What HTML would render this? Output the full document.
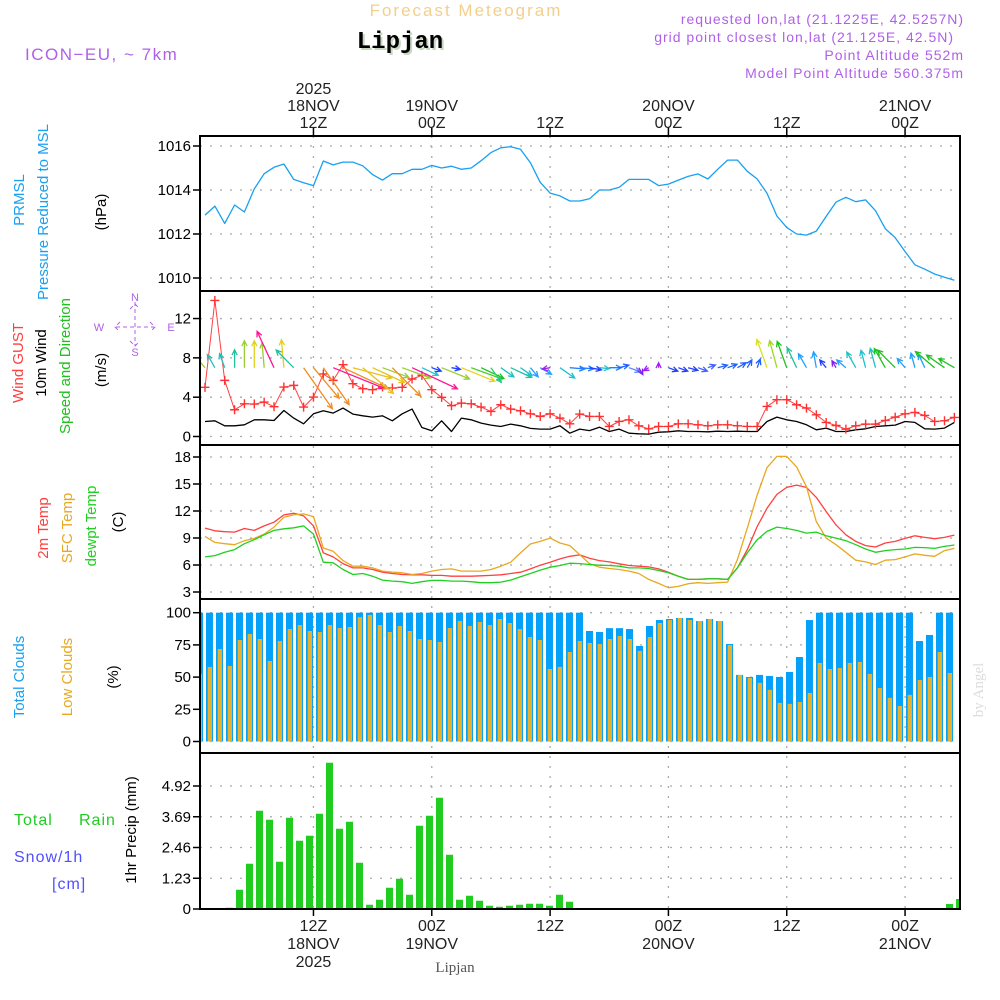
<!DOCTYPE html>
<html><head><meta charset="utf-8"><title>Forecast Meteogram - Lipjan</title>
<style>
html,body{margin:0;padding:0;background:#fff;}
svg{display:block;}
text{font-family:"Liberation Sans",sans-serif;}
</style></head>
<body>
<svg id="chart" xmlns="http://www.w3.org/2000/svg" width="1000" height="1000" viewBox="0 0 1000 1000">
<rect x="0" y="0" width="1000" height="1000" fill="#fff"/>
<text x="466" y="16" text-anchor="middle" font-size="17" fill="#f3cf8c" letter-spacing="2">Forecast Meteogram</text>
<text x="402" y="50" text-anchor="middle" font-size="24" font-weight="bold" fill="#c8d8c0" style="font-family:'Liberation Mono','Liberation Serif',serif">Lipjan</text>
<text x="400" y="48" text-anchor="middle" font-size="24" font-weight="bold" fill="#000" style="font-family:'Liberation Mono','Liberation Serif',serif">Lipjan</text>
<text x="25" y="60" font-size="17" fill="#b060e8" letter-spacing="1.5">ICON−EU, ~ 7km</text>
<g font-size="14" fill="#b060e8" text-anchor="end" letter-spacing="1">
<text x="964" y="24">requested lon,lat (21.1225E, 42.5257N)</text>
<text x="954" y="42">grid point closest lon,lat (21.125E, 42.5N)</text>
<text x="964" y="60">Point Altitude 552m</text>
<text x="964" y="78">Model Point Altitude 560.375m</text>
</g>
<g id="labels" font-size="15"></g>
<g id="grid"></g>
<g id="marks"></g>
<g id="frames"></g>
<text x="983" y="690" transform="rotate(-90 983 690)" text-anchor="middle" font-size="15" fill="#dcdcdc" style="font-family:'Liberation Serif',serif">by Angel</text>
<text x="455" y="972" text-anchor="middle" font-size="15" fill="#555" style="font-family:'Liberation Serif',serif">Lipjan</text>
</svg>
<script>
const pressure=[1012.86,1013.27,1012.48,1013.32,1013.0,1014.05,1014.74,1015.03,1015.18,1014.48,1014.33,1014.2,1015.32,1015.14,1015.27,1015.27,1015.1,1014.7,1014.45,1014.74,1014.74,1014.94,1014.94,1015.12,1015.0,1015.08,1014.94,1015.0,1015.33,1015.7,1015.92,1015.97,1015.85,1015.24,1014.35,1013.86,1013.73,1013.5,1013.5,1013.6,
1014.0,1014.0,1014.12,1014.48,1014.48,1014.48,1014.2,1014.27,1014.45,1014.62,1014.73,1014.5,1014.94,1015.36,1015.36,1014.85,1014.5,1013.85,1012.82,1012.3,1012.0,1011.95,1012.13,1012.8,1013.45,1013.67,1013.47,1013.55,1013.06,1012.24,1011.83,1011.2,1010.6,1010.4,1010.18,1010.03,1009.9];
const windSpeed=[1.53,1.6,1.09,1.09,1.19,1.7,1.7,1.63,2.65,1.87,1.29,2.31,2.62,2.38,2.89,2.28,2.11,1.97,2.11,1.6,2.31,2.79,0.92,0.58,1.6,0.51,1.87,1.7,1.36,1.16,1.02,1.26,1.09,0.82,0.75,0.75,1.09,0.34,0.75,0.6,
0.95,0.51,0.75,0.34,0.27,0.24,0.44,0.48,0.58,0.51,0.51,0.48,0.54,0.51,0.54,0.51,0.51,1.53,1.97,1.7,1.53,1.19,0.68,0.85,0.51,0.51,0.68,0.78,1.02,1.09,1.16,1.53,1.43,0.78,0.75,0.85,1.43];
const windGust=[5.0,13.84,5.71,2.72,3.33,3.3,3.5,3.03,5.03,5.2,2.99,4.01,6.36,5.71,7.31,5.37,4.86,4.76,5.03,4.93,5.0,5.85,6.22,4.76,3.98,3.13,3.4,3.33,2.99,2.55,3.23,2.79,2.62,2.31,2.04,2.31,1.87,1.29,2.28,2.04,
2.04,1.02,1.53,1.7,1.09,0.78,1.02,1.02,1.29,1.29,1.19,1.09,1.19,1.19,1.09,1.02,1.02,3.06,3.74,3.74,3.23,2.89,2.21,1.43,1.12,0.75,1.09,1.26,1.26,1.63,1.97,2.31,2.45,2.14,1.53,1.6,1.94];
const windDir=[320,330,340,0,0,0,355,335,355,315,145,140,145,112,115,105,130,115,110,135,110,115,115,110,112,100,112,110,115,145,125,115,125,140,120,260,125,95,95,100,95,90,75,110,150,240,0,110,110,105,110,70,75,70,60,30,20,340,345,340,335,330,350,320,330,310,330,345,345,330,315,320,345,335,310,305,300];
const arrowLen=[20,15,15,18,27,27,25,40,28,25,50,40,45,55,50,40,40,35,28,40,30,50,18,10,30,9,36,33,25,18,16,23,14,12,13,8,18,15,14,12,10,12,10,12,8,6,5,10,10,10,10,8,10,10,10,9,9,30,28,28,22,16,16,10,8,12,18,18,20,22,25,12,15,15,25,22,18];
const arrowColor=["#9acd32","#20c0c0","#20c0c0","#20c0a0","#9acd32","#e0d020","#9acd32","#ff1493","#e0d020","#20c0a0","#f08c20","#f08c20","#f08c20","#ff1493","#f08c20","#e8c020","#e8c020","#e8c020","#9acd32","#f08c20","#9acd32","#ff1493","#20c0d0","#2040ff","#9acd32","#2040ff","#e8d020","#40d020","#20c020","#20d080","#20c0c0","#20c0a0","#20c0d0","#20a0ff","#20a0ff","#a020f0","#20c0d0","#2080ff","#2080ff","#2040ff","#20c0d0","#2080ff","#2060ff","#6080ff","#8020f0","#a020f0","#a020f0","#2040ff","#2040ff","#2040ff","#4060ff","#4060ff","#2060ff","#2060ff","#2060ff","#2060ff","#2060ff","#d8e020","#a0d820","#20c020","#20c0a0","#20a0ff","#20a0ff","#2040ff","#8020f0","#20a0ff","#20c0c0","#20c0d0","#20c0c0","#20c020","#20c020","#20a0ff","#20a0ff","#20a0ff","#20c020","#20c020","#20c020"];
const temp2m=[10.1,9.8,9.7,9.65,10.06,9.84,10.35,10.76,11.57,11.75,11.46,10.35,7.34,6.9,6.16,5.68,5.68,5.5,5.2,5.06,4.95,4.91,4.91,4.84,4.84,4.76,4.76,4.76,4.8,4.84,4.91,5.06,5.2,5.57,5.98,6.31,6.68,6.97,7.12,6.75,
6.49,6.35,6.13,5.94,5.87,5.79,5.57,5.2,4.76,4.4,4.4,4.47,4.47,4.4,5.68,7.71,10.28,12.3,13.85,14.62,14.88,14.62,13.51,11.93,10.46,9.36,8.62,8.15,8.0,8.44,8.62,8.96,9.25,9.07,8.92,9.07,9.32];
const tempSfc=[9.18,8.51,8.37,8.26,8.7,8.96,9.43,10.21,11.31,11.57,11.68,11.38,7.89,7.52,6.49,5.87,5.87,5.68,5.32,5.21,5.13,4.95,5.06,5.32,5.5,5.57,5.32,5.32,5.32,5.5,5.87,6.31,7.34,8.33,8.62,8.99,8.44,8.15,7.15,6.16,
5.76,5.61,5.5,5.32,5.06,4.4,3.96,3.48,3.62,3.92,4.03,3.96,4.03,4.1,6.6,10.1,13.78,16.82,18.07,18.07,16.9,14.69,10.83,8.99,8.26,7.41,6.53,6.35,6.05,6.53,6.6,6.9,7.23,7.08,6.97,7.6,7.85];
const tempDew=[6.9,7.04,7.41,7.71,8.37,8.81,9.36,9.84,10.02,10.13,10.35,9.43,6.31,6.24,5.5,4.95,5.06,4.76,4.32,4.21,4.14,3.96,4.14,4.29,4.29,4.21,4.21,4.14,4.03,4.03,4.1,4.32,4.69,5.06,5.43,5.76,5.94,6.2,6.16,6.05,
5.98,5.94,5.87,5.68,5.68,5.61,5.39,5.13,4.76,4.4,4.4,4.47,4.47,4.4,5.68,7.34,8.81,9.73,10.21,10.06,9.84,9.54,9.65,9.25,8.99,8.7,8.26,7.78,7.41,7.6,7.71,7.78,7.96,7.93,7.85,8.07,8.22];
const totalClouds=[100,100,100,100,100,100,100,100,100,100,100,100,100,100,100,100,100,100,100,100,100,100,100,100,100,100,100,100,100,100,100,100,100,100,100,100,100,100,100,100,
85.8,85,88,88,87.3,74.2,89.7,94.3,95.1,95.9,95.9,93.5,95.1,93.5,75.7,51.7,50.1,51.7,50.9,50.1,54,65.6,94.3,100,100,100,100,100,100,100,100,100,100,78,82.7,100,100];
const lowClouds=[62,52.5,57.9,71.8,58.7,78.8,83.5,79.6,62.5,78,87.3,90.4,85.8,85,90.4,88.1,88.9,96.6,98.2,90.4,85,89.7,85.8,79.6,78.8,77.3,88.1,93.5,89.7,92.8,90.4,95.1,92,87.3,81.1,78.8,56.3,57.9,69.5,78,
76.5,75.7,79.6,81.9,79.6,70.3,81.1,92,94.3,95.9,94.3,93.5,95.1,93.5,74.9,51.7,49.4,45.5,40.1,30,29.2,30.7,37.7,61,56.3,57.1,61,61.8,52.5,41.6,33.9,27.6,36.2,47.8,50.1,69.5,53.2];
const precip=[0,0,0.05,0.77,1.81,3.93,3.57,1.89,3.65,2.73,2.93,3.81,5.85,3.21,3.49,1.85,0.17,0.37,0.85,1.21,0.57,3.33,3.73,4.45,2.17,0.37,0.53,0.33,0.13,0.09,0.13,0.17,0.21,0.21,0.13,0.57,0.29,
0,0,0,0,0,0,0,0,0,0,0,0,0,0,0,0,0,0,0,0,0,0,0,0,0,0,0,0,0,0,0,0,0,0,0,0,0,0.2,0.4];
const pressTicks=[1010,1012,1014,1016];
const windTicks=[0,4,8,12];
const tempTicks=[3,6,9,12,15,18];
const cloudTicks=[0,25,50,75,100];
const precipTicks=[0,1.23,2.46,3.69,4.92];
const timeTickIdx=[11,23,35,47,59,71];
const timeTopLabels=[["2025","18NOV","12Z"],["","19NOV","00Z"],["","","12Z"],["","20NOV","00Z"],["","","12Z"],["","21NOV","00Z"]];
const timeBottomLabels=[["12Z","18NOV","2025"],["00Z","19NOV",""],["12Z","",""],["00Z","20NOV",""],["12Z","",""],["00Z","21NOV",""]];

const NS="http://www.w3.org/2000/svg";
const PL=200, PR=960;
const panels=[[136,291],[291,445],[445,599],[599,753],[753,909]];
function xt(k){return 205+9.86*k;}
function bx(k){return 199.5+10*k;}
function bxp(k){return 209.5+10*k;}
function yPress(v){return 146+(1016-v)*22;}
function yWind(v){return 436.5-9.83*v;}
function yTemp(v){return 457+(18-v)*9;}
function yCloud(v){return 741.5-1.288*v;}
function yPrecip(v){return 909-25*v;}

function mk(tag,attrs,parent){const e=document.createElementNS(NS,tag);for(const a in attrs)e.setAttribute(a,attrs[a]);parent.appendChild(e);return e;}
const grid=document.getElementById('grid'), marks=document.getElementById('marks'), frames=document.getElementById('frames'), labels=document.getElementById('labels');

mk('clipPath',{id:'plotclip'},document.getElementById('chart')).appendChild((()=>{const r=document.createElementNS(NS,'rect');r.setAttribute('x',PL);r.setAttribute('y',136);r.setAttribute('width',PR-PL);r.setAttribute('height',773);return r;})());
marks.setAttribute('clip-path','url(#plotclip)');

function yAxis(ticks,fy,fmt,name){
  ticks.forEach(t=>{
    const y=fy(t);
    const g=mk('line',{x1:PL,x2:PR,y1:y,y2:y,stroke:'#aaa','stroke-width':1.3,'stroke-dasharray':'2 8'},grid);
    
    
    const tk=mk('line',{x1:PL-7,x2:PL,y1:y,y2:y,stroke:'#000','stroke-width':1.5},frames);
    
    
    const tx=mk('text',{x:PL-9,y:y+5,'text-anchor':'end','font-size':15,fill:'#000'},frames);
    tx.textContent=fmt(t);
    
    
  });
}
yAxis(pressTicks,yPress,v=>v,'pressure-axis');
yAxis(windTicks,yWind,v=>v,'wind-axis');
yAxis(tempTicks,yTemp,v=>v,'temp-axis');
yAxis(cloudTicks,yCloud,v=>v,'cloud-axis');
yAxis(precipTicks,yPrecip,v=>v===0?'0':v.toFixed(2),'precip-axis');

timeTickIdx.forEach((k,i)=>{
  const x=xt(k);
  const v=mk('line',{x1:x,x2:x,y1:136,y2:909,stroke:'#aaa','stroke-width':1.3,'stroke-dasharray':'2 8'},grid);
  
  
  const t1=mk('line',{x1:x,x2:x,y1:128,y2:136,stroke:'#000','stroke-width':1.5},frames);
  
  
  const t2=mk('line',{x1:x,x2:x,y1:909,y2:916,stroke:'#000','stroke-width':1.5},frames);
  
  
  timeTopLabels[i].forEach((s,j)=>{ if(!s) return;
    const t=mk('text',{x:x,y:94+j*17,'text-anchor':'middle','font-size':16,fill:'#222'},labels);
    t.textContent=s;
    
    
  });
  timeBottomLabels[i].forEach((s,j)=>{ if(!s) return;
    const t=mk('text',{x:x,y:931+j*18,'text-anchor':'middle','font-size':16,fill:'#222'},labels);
    t.textContent=s;
    
    
  });
});

function line(arr,fy,color,name,w){
  const d=arr.map((v,k)=>(k?'L':'M')+xt(k).toFixed(1)+' '+fy(v).toFixed(1)).join(' ');
  const p=mk('path',{d:d,fill:'none',stroke:color,'stroke-width':w||1.3,'stroke-linejoin':'round'},marks);
  
  
}
line(pressure,yPress,'#19a0f0','pressure-line');

totalClouds.forEach((v,i)=>{
  const k=i-1, x=bx(k);
  const r=mk('rect',{x:x-3.5,y:yCloud(v),width:7,height:yCloud(0)-yCloud(v),fill:'#05a0f8'},marks);
  
  
});
lowClouds.forEach((v,i)=>{
  const k=i-1, x=bx(k);
  const r=mk('rect',{x:x-1.8,y:yCloud(v),width:4.3,height:yCloud(0)-yCloud(v),fill:'#e8b030'},marks);
  
  
});
precip.forEach((v,k)=>{
  if(v<=0) return;
  const x=bxp(k);
  const r=mk('rect',{x:x-3.5,y:yPrecip(v),width:7,height:yPrecip(0)-yPrecip(v),fill:'#20cc20'},marks);
  
  
});

line(windSpeed,yWind,'#000','wind-speed-line',1.3);
line(windGust,yWind,'#ff4040','wind-gust-line',1);
windGust.forEach((v,k)=>{
  const x=xt(k), y=yWind(v);
  const p=mk('path',{d:`M${x-4.5} ${y}H${x+4.5}M${x} ${y-4.5}V${y+4.5}`,stroke:'#ff3030','stroke-width':1.4},marks);
  
  
});
windDir.forEach((d,k)=>{
  const x0=xt(k), y0=yWind(7), L=arrowLen[k], a=d*Math.PI/180;
  const x1=x0+L*Math.sin(a), y1=y0-L*Math.cos(a);
  const hl=6, b1=a+Math.PI-0.45, b2=a+Math.PI+0.45;
  const d2=`M${x0.toFixed(1)} ${y0.toFixed(1)}L${x1.toFixed(1)} ${y1.toFixed(1)}M${(x1+hl*Math.sin(b1)).toFixed(1)} ${(y1-hl*Math.cos(b1)).toFixed(1)}L${x1.toFixed(1)} ${y1.toFixed(1)}L${(x1+hl*Math.sin(b2)).toFixed(1)} ${(y1-hl*Math.cos(b2)).toFixed(1)}`;
  const p=mk('path',{d:d2,fill:'none',stroke:arrowColor[k],'stroke-width':1.3},marks);
  
  
});

line(temp2m,yTemp,'#ff4040','temp-2m-line');
line(tempSfc,yTemp,'#e8a820','temp-sfc-line');
line(tempDew,yTemp,'#20d020','dewpoint-line');

panels.forEach((p,i)=>{
  const r=mk('rect',{x:PL,y:p[0],width:PR-PL,height:p[1]-p[0],fill:'none',stroke:'#000','stroke-width':2},frames);
  
  
});

function rl(x,y,txt,color,name,size){
  const t=mk('text',{x:x,y:y,transform:`rotate(-90 ${x} ${y})`,'text-anchor':'middle',fill:color,'font-size':size||15},labels);
  t.textContent=txt;
  
  
}
rl(24,200,'PRMSL','#19a0f0','pressure-label-prmsl');
rl(48,212,'Pressure Reduced to MSL','#19a0f0','pressure-label-msl');
rl(106,212,'(hPa)','#000','pressure-unit');
rl(23,363,'Wind GUST','#ff4040','wind-gust-label');
rl(46,363,'10m Wind','#000','wind-10m-label');
rl(70,366,'Speed and Direction','#20c020','wind-speed-dir-label');
rl(106,370,'(m/s)','#000','wind-unit');
rl(48,528,'2m Temp','#ff4040','temp-2m-label');
rl(72,528,'SFC Temp','#e8a820','temp-sfc-label');
rl(96,526,'dewpt Temp','#20d020','dewpoint-label');
rl(123,522,'(C)','#000','temp-unit');
rl(24,677,'Total Clouds','#19a0f0','total-clouds-label');
rl(72,677,'Low Clouds','#e8a820','low-clouds-label');
rl(118,677,'(%)','#000','cloud-unit');
rl(136,830,'1hr Precip (mm)','#000','precip-axis-title');
[['Total',14,825,'#20cc20','precip-legend-total'],['Rain',79,825,'#20cc20','precip-legend-rain'],['Snow/1h',14,862,'#5050ff','precip-legend-snow'],['[cm]',52,889,'#5050ff','precip-legend-cm']].forEach(a=>{
  const t=mk('text',{x:a[1],y:a[2],fill:a[3],'font-size':16,'letter-spacing':1},labels);
  t.textContent=a[0];
  
  
});
const cg=mk('g',{stroke:'#b060e8','stroke-width':1,fill:'none'},labels);


mk('path',{d:'M135 302V346M116 327H154M130 309L135 304L140 309M130 341L135 346L140 341M120 322L115 327L120 332M150 322L155 327L150 332','stroke-dasharray':'4 3'},cg);
[['N',135,301],['S',135,356],['W',99,331],['E',171,331]].forEach(a=>{
  const t=mk('text',{x:a[1],y:a[2],'text-anchor':'middle','font-size':11,fill:'#b060e8',stroke:'none'},cg);
  t.textContent=a[0];
  
  
});
</script>
</body></html>
